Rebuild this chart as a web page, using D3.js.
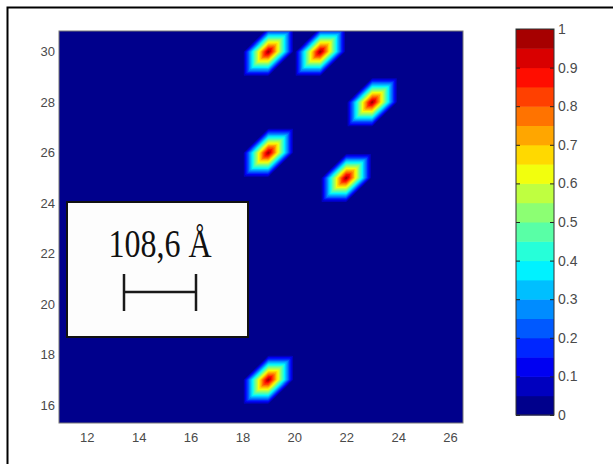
<!DOCTYPE html>
<html>
<head>
<meta charset="utf-8">
<script src="https://cdn.jsdelivr.net/npm/d3@7"></script>
<style>
  body { margin: 0; background: #fff; }
</style>
</head>
<body>
<div id="chart"></div>
<script>
// peak positions on the lattice (x, y) and their height
var peakX = [19, 21, 23, 19, 22, 19];
var peakY = [30, 30, 28, 26, 25, 17];
var peakZ = [1, 1, 1, 1, 1, 1];

var xTicks = [12, 14, 16, 18, 20, 22, 24, 26];
var yTicks = [16, 18, 20, 22, 24, 26, 28, 30];
var cbTicks = [0, 0.1, 0.2, 0.3, 0.4, 0.5, 0.6, 0.7, 0.8, 0.9, 1];
var cbLabels = ["0", "0.1", "0.2", "0.3", "0.4", "0.5", "0.6", "0.7", "0.8", "0.9", "1"];
var levels = d3.range(21).map(function(k) { return k * 0.05; });

var w = 613;
var h = 464;

var svg = d3.select("#chart")
            .append("svg")
            .attr("width", w)
            .attr("height", h);

// outer frame
svg.append("rect")
   .attr("x", 7.5).attr("y", 7.5)
   .attr("width", 640).attr("height", 480)
   .attr("fill", "#fff")
   .attr("stroke", "#000")
   .attr("stroke-width", 2);

var x = d3.scaleLinear().domain([10.93, 26.5]).range([59, 463]);
var y = d3.scaleLinear().domain([15.29, 30.82]).range([423, 31]);

// matlab jet
function jet(v) {
    function c(t) { return Math.round(255 * Math.max(0, Math.min(1, t))); }
    return "rgb(" + c(1.5 - Math.abs(4 * v - 3)) + "," +
                    c(1.5 - Math.abs(4 * v - 2)) + "," +
                    c(1.5 - Math.abs(4 * v - 1)) + ")";
}
function bandColor(k) { return jet(levels[k] + 0.0125); }

// lattice values, linear interpolation on triangles (diagonal i,j -> i+1,j+1)
var nodes = new Map();
peakX.forEach(function(px, i) { nodes.set(px + "," + peakY[i], peakZ[i]); });
function z(i, j) { return nodes.get(i + "," + j) || 0; }
function interp(u, v) {
    var i = Math.floor(u), j = Math.floor(v);
    var fu = u - i, fv = v - j;
    var f00 = z(i, j), f10 = z(i + 1, j), f01 = z(i, j + 1), f11 = z(i + 1, j + 1);
    if (fu >= fv) return f00 + fu * (f10 - f00) + fv * (f11 - f10);
    return f00 + fv * (f01 - f00) + fu * (f11 - f01);
}

var s = 0.04;
var x0 = 10.9, y0 = 15.25;
var nx = Math.ceil((26.55 - x0) / s) + 1;
var ny = Math.ceil((30.85 - y0) / s) + 1;
var values = new Array(nx * ny);
for (var j = 0; j < ny; j++) {
    for (var i = 0; i < nx; i++) {
        values[j * nx + i] = interp(x0 + i * s, y0 + j * s);
    }
}

var contours = d3.contours()
                 .size([nx, ny])
                 .thresholds(levels.slice(1, 20))(values);

var path = d3.geoPath(d3.geoTransform({
    point: function(px, py) {
        this.stream.point(x(x0 + (px - 0.5) * s), y(y0 + (py - 0.5) * s));
    }
}));

svg.append("clipPath").attr("id", "plotclip")
   .append("rect")
   .attr("x", x.range()[0]).attr("y", y.range()[1])
   .attr("width", x.range()[1] - x.range()[0])
   .attr("height", y.range()[0] - y.range()[1]);

var plot = svg.append("g").attr("clip-path", "url(#plotclip)");

plot.append("rect")
    .attr("x", x.range()[0]).attr("y", y.range()[1])
    .attr("width", x.range()[1] - x.range()[0])
    .attr("height", y.range()[0] - y.range()[1])
    .attr("fill", bandColor(0));

plot.selectAll("path")
    .data(contours)
    .enter()
    .append("path")
    .attr("d", path)
    .attr("fill", function(d, i) { return bandColor(i + 1); });

// axes
var xAxis = svg.append("g")
   .attr("transform", "translate(0," + y.range()[0] + ")")
   .call(d3.axisBottom(x).tickValues(xTicks).tickSize(0).tickFormat(d3.format("d")));
xAxis.selectAll("text").attr("dy", null).attr("y", 19);

var yAxis = svg.append("g")
   .attr("transform", "translate(" + x.range()[0] + ",0)")
   .call(d3.axisLeft(y).tickValues(yTicks).tickSize(0).tickPadding(4).tickFormat(d3.format("d")));

[xAxis, yAxis].forEach(function(a) {
    a.select(".domain").remove();
    a.selectAll("text")
     .attr("font-size", "13px")
     .attr("fill", "#4a4a4a")
     .attr("font-family", "Liberation Sans, Arial, sans-serif");
});

svg.append("rect")
   .attr("x", x.range()[0]).attr("y", y.range()[1])
   .attr("width", x.range()[1] - x.range()[0])
   .attr("height", y.range()[0] - y.range()[1])
   .attr("fill", "none")
   .attr("stroke", "#777")
   .attr("stroke-width", 1);

// scale bar annotation
svg.append("rect")
   .attr("x", 67).attr("y", 202)
   .attr("width", 181).attr("height", 135)
   .attr("fill", "#fdfdfd")
   .attr("stroke", "#111")
   .attr("stroke-width", 2);

svg.append("text")
   .attr("transform", "translate(160,257) scale(0.8,1)")
   .attr("text-anchor", "middle")
   .style("font-family", "'Liberation Serif', 'Times New Roman', serif")
   .attr("font-size", "40px")
   .attr("fill", "#111")
   .text("108,6 Å");

svg.append("g")
   .attr("stroke", "#1a1a1a")
   .attr("stroke-width", 2.5)
   .selectAll("line")
   .data([[124, 292, 196, 292], [124, 274, 124, 311], [196, 274, 196, 311]])
   .enter()
   .append("line")
   .attr("x1", function(d) { return d[0]; })
   .attr("y1", function(d) { return d[1]; })
   .attr("x2", function(d) { return d[2]; })
   .attr("y2", function(d) { return d[3]; });

// colorbar
var cb = d3.scaleLinear().domain([0, 1]).range([415, 29]);
var cbLeft = 516, cbRight = 554;

svg.append("g")
   .selectAll("rect")
   .data(d3.range(20))
   .enter()
   .append("rect")
   .attr("x", cbLeft)
   .attr("y", function(k) { return cb(levels[k + 1]); })
   .attr("width", cbRight - cbLeft)
   .attr("height", function(k) { return cb(levels[k]) - cb(levels[k + 1]) + 0.5; })
   .attr("fill", function(k) { return bandColor(k); });

var cbAxis = svg.append("g")
   .attr("transform", "translate(" + cbRight + ",0)")
   .call(d3.axisRight(cb).tickValues(cbTicks).tickSize(-4).tickPadding(4)
         .tickFormat(function(d, i) { return cbLabels[i]; }));
cbAxis.select(".domain").remove();
cbAxis.selectAll("line").attr("stroke", "#222");
cbAxis.selectAll("text")
      .attr("font-size", "14px")
      .attr("fill", "#4a4a4a")
      .attr("font-family", "Liberation Sans, Arial, sans-serif");

var cbLeftAxis = svg.append("g")
   .attr("transform", "translate(" + cbLeft + ",0)")
   .call(d3.axisLeft(cb).tickValues(cbTicks).tickSize(-4).tickFormat(""));
cbLeftAxis.select(".domain").remove();
cbLeftAxis.selectAll("line").attr("stroke", "#222");

svg.append("rect")
   .attr("x", cbLeft).attr("y", cb(1))
   .attr("width", cbRight - cbLeft)
   .attr("height", cb(0) - cb(1))
   .attr("fill", "none")
   .attr("stroke", "#333")
   .attr("stroke-width", 1);
</script>
</body>
</html>
